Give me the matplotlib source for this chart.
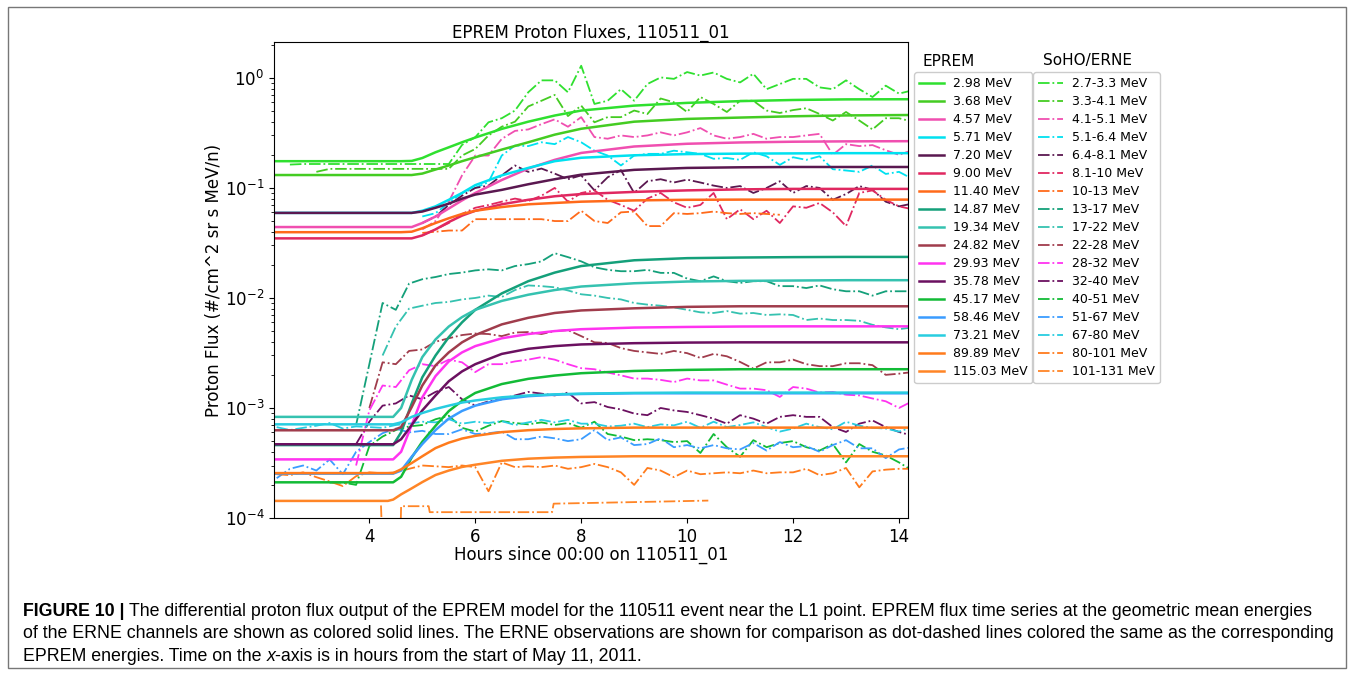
import numpy as np
import matplotlib
matplotlib.use('Agg')
import matplotlib.pyplot as plt
from matplotlib.patches import Rectangle

n = np.nan

# EPREM model output (solid lines), sampled on a common time grid (hours)
t_model = [2.2, 4.35, 4.45, 4.6, 4.8, 5.0, 5.25, 5.5, 5.75, 6.0, 6.5, 7.0, 7.5, 8.0, 9.0, 10.0, 11.0, 12.0, 13.0, 14.2]

eprem_2p98 = [0.175, 0.175, 0.175, 0.175, 0.176, 0.187, 0.211, 0.234, 0.26, 0.287, 0.344, 0.40, 0.455, 0.505, 0.56, 0.593, 0.615, 0.63, 0.638, 0.64]
eprem_3p68 = [0.131, 0.131, 0.131, 0.131, 0.131, 0.135, 0.147, 0.16, 0.175, 0.19, 0.223, 0.26, 0.305, 0.345, 0.40, 0.424, 0.436, 0.448, 0.456, 0.46]
eprem_4p57 = [0.0441, 0.0441, 0.0441, 0.0441, 0.0441, 0.048, 0.055, 0.065, 0.077, 0.09, 0.118, 0.15, 0.18, 0.208, 0.238, 0.252, 0.259, 0.263, 0.265, 0.266]
eprem_5p71 = [0.0593, 0.0593, 0.0593, 0.0593, 0.0593, 0.062, 0.068, 0.078, 0.09, 0.106, 0.13, 0.152, 0.175, 0.188, 0.198, 0.203, 0.205, 0.206, 0.207, 0.207]
eprem_7p20 = [0.0593, 0.0593, 0.0593, 0.0593, 0.0593, 0.061, 0.066, 0.072, 0.08, 0.087, 0.096, 0.108, 0.12, 0.132, 0.146, 0.152, 0.154, 0.155, 0.155, 0.155]
eprem_9p00 = [0.0348, 0.0348, 0.0348, 0.0348, 0.0348, 0.037, 0.042, 0.049, 0.056, 0.062, 0.071, 0.078, 0.084, 0.088, 0.092, 0.095, 0.097, 0.098, 0.098, 0.098]
eprem_11p40 = [0.0396, 0.0396, 0.0396, 0.0396, 0.040, 0.043, 0.048, 0.053, 0.058, 0.062, 0.067, 0.071, 0.073, 0.075, 0.077, 0.078, 0.0783, 0.0783, 0.0783, 0.0783]
# lower energies below, values in units of 1e-3
eprem_14p87 = [0.46, 0.46, 0.46, 0.60, 1.1, 1.9, 3.0, 4.4, 6.0, 7.8, 11.0, 14.2, 17.0, 19.5, 22.0, 23.0, 23.3, 23.5, 23.6, 23.6]
eprem_19p34 = [0.83, 0.83, 0.83, 1.0, 1.8, 2.9, 4.2, 5.5, 6.7, 7.8, 9.4, 10.7, 11.8, 12.7, 13.6, 14.1, 14.3, 14.4, 14.5, 14.5]
eprem_24p82 = [0.627, 0.627, 0.627, 0.67, 1.02, 1.6, 2.44, 3.2, 3.95, 4.6, 5.75, 6.6, 7.3, 7.7, 8.05, 8.3, 8.4, 8.4, 8.4, 8.4]
eprem_29p93 = [0.341, 0.341, 0.341, 0.40, 0.70, 1.25, 1.95, 2.65, 3.2, 3.65, 4.3, 4.7, 5.0, 5.2, 5.38, 5.45, 5.5, 5.52, 5.52, 5.52]
eprem_35p78 = [0.468, 0.468, 0.468, 0.52, 0.70, 0.95, 1.3, 1.75, 2.15, 2.5, 3.1, 3.45, 3.65, 3.78, 3.88, 3.93, 3.95, 3.95, 3.95, 3.95]
eprem_45p17 = [0.211, 0.211, 0.211, 0.237, 0.355, 0.494, 0.689, 0.937, 1.16, 1.37, 1.65, 1.84, 1.97, 2.07, 2.17, 2.22, 2.25, 2.25, 2.25, 2.25]
eprem_58p46 = [0.253, 0.253, 0.253, 0.27, 0.36, 0.47, 0.63, 0.80, 0.94, 1.05, 1.2, 1.28, 1.32, 1.34, 1.36, 1.36, 1.36, 1.36, 1.36, 1.36]
eprem_73p21 = [0.71, 0.71, 0.71, 0.74, 0.83, 0.90, 0.98, 1.05, 1.12, 1.17, 1.25, 1.30, 1.33, 1.35, 1.37, 1.38, 1.38, 1.38, 1.38, 1.38]
eprem_89p89 = [0.256, 0.256, 0.256, 0.277, 0.316, 0.364, 0.432, 0.484, 0.527, 0.558, 0.603, 0.628, 0.644, 0.653, 0.663, 0.663, 0.663, 0.663, 0.663, 0.663]
eprem_115p03 = [0.143, 0.143, 0.147, 0.164, 0.186, 0.212, 0.246, 0.270, 0.291, 0.305, 0.331, 0.346, 0.354, 0.359, 0.364, 0.364, 0.364, 0.364, 0.364, 0.364]

# SoHO/ERNE observations (dot-dashed), every 0.25 h from 2.25 to 14.25
t_obs = np.arange(2.25, 14.26, 0.25)

erne_2p7 = [n, 0.163, 0.165, 0.165, 0.165, 0.165, 0.165, 0.165,
            0.165, 0.165, 0.165, 0.165, 0.165, 0.165, 0.246, 0.289,
            0.395, 0.43, 0.505, 0.74, 0.95, 0.95, 0.74, 1.29,
            0.58, 0.62, 0.79, 0.62, 0.88, 1.01, 0.98, 1.13,
            1.05, 1.12, 0.98, 0.91, 1.09, 0.79, 0.88, 0.98,
            0.98, 0.82, 0.79, 0.95, 0.79, 0.67, 0.85, 0.72,
            0.77]
erne_3p3 = [n, n, n, 0.14, 0.149, 0.149, 0.149, 0.149,
            0.149, 0.149, 0.149, 0.149, 0.149, 0.149, 0.197, 0.226,
            0.30, 0.36, 0.40, 0.55, 0.62, 0.70, 0.45, 0.56,
            0.395, 0.44, 0.44, 0.505, 0.47, 0.65, 0.60, 0.49,
            0.67, 0.58, 0.49, 0.62, 0.62, 0.505, 0.48, 0.51,
            0.53, 0.47, 0.41, 0.49, 0.41, 0.34, 0.43, 0.43,
            0.40]
erne_4p1 = [n, n, n, n, n, n, n, n,
            n, n, n, 0.042, 0.05, 0.075, 0.13, 0.197,
            0.197, 0.279, 0.33, 0.34, 0.38, 0.42, 0.36, 0.44,
            0.29, 0.28, 0.30, 0.29, 0.30, 0.32, 0.30, 0.32,
            0.35, 0.30, 0.28, 0.29, 0.31, 0.28, 0.29, 0.29,
            0.30, 0.31, 0.20, 0.25, 0.24, 0.245, 0.22, 0.20,
            0.22]
erne_5p1 = [n, n, n, n, n, n, n, n,
            n, n, n, 0.055, 0.059, 0.073, 0.09, 0.10,
            0.113, 0.197, 0.243, 0.24, 0.26, 0.25, 0.29, 0.26,
            0.218, 0.197, 0.16, 0.197, 0.204, 0.204, 0.218, 0.211,
            0.204, 0.184, 0.187, 0.18, 0.211, 0.194, 0.162, 0.19,
            0.18, 0.194, 0.148, 0.144, 0.14, 0.16, 0.134, 0.14,
            0.121]
erne_6p4 = [n, n, n, n, n, n, n, n,
            n, n, n, 0.048, 0.055, 0.07, 0.085, 0.10,
            0.105, 0.13, 0.16, 0.14, 0.15, 0.135, 0.12, 0.13,
            0.095, 0.125, 0.145, 0.09, 0.115, 0.12, 0.112, 0.119,
            0.112, 0.105, 0.10, 0.104, 0.09, 0.10, 0.115, 0.09,
            0.104, 0.10, 0.078, 0.088, 0.104, 0.096, 0.075, 0.068,
            0.072]
erne_8p1 = [n, n, n, n, n, n, n, n,
            n, n, n, 0.037, 0.042, 0.048, 0.058, 0.066,
            0.07, 0.075, 0.08, 0.076, 0.085, 0.10, 0.075, 0.09,
            0.095, 0.078, 0.07, 0.062, 0.08, 0.09, 0.074, 0.066,
            0.07, 0.09, 0.052, 0.064, 0.052, 0.062, 0.048, 0.068,
            0.066, 0.073, 0.06, 0.045, 0.09, 0.095, 0.078, 0.068,
            0.064]
erne_10 = [n, n, n, n, n, n, n, n,
           n, n, n, 0.039, 0.040, 0.041, 0.041, 0.052,
           0.052, 0.052, 0.052, 0.052, 0.052, 0.05, 0.05, 0.062,
           0.05, 0.048, 0.06, 0.061, 0.045, 0.045, 0.059, 0.058,
           0.059, 0.061, 0.059, 0.058, 0.059, 0.058, 0.057, n,
           n, n, n, n, n, n, n, n,
           n]
# values in units of 1e-3
erne_13 = [n, n, n, n, n, n, 0.7, 2.5,
           9.0, 7.8, 13.5, 14.8, 15.5, 16.5, 17.0, 17.8,
           18.2, 17.8, 19.5, 20.3, 21.5, 25.5, 23.5, 21.5,
           19.0, 18.0, 17.5, 17.5, 18.0, 16.9, 16.9, 15.0,
           14.2, 15.7, 14.2, 13.7, 14.2, 14.2, 12.8, 12.8,
           12.3, 13.0, 12.0, 11.5, 11.5, 10.5, 11.5, 11.5,
           11.5]
erne_17 = [n, n, n, n, n, n, n, n,
           3.0, 5.5, 8.0, 8.5, 9.0, 9.2, 9.7, 10.0,
           10.5, 10.2, 11.8, 13.0, 12.8, 12.5, 11.7, 10.8,
           10.5, 10.0, 9.7, 9.0, 8.7, 8.5, 8.2, 7.8,
           7.4, 7.3, 7.6, 7.2, 7.3, 7.0, 7.1, 7.0,
           6.3, 6.5, 6.3, 6.3, 6.2, 5.7, 5.4, 5.2,
           5.4]
erne_22 = [n, n, n, n, n, n, n, 1.0,
           2.6, 2.5, 3.3, 3.4, 4.0, 4.3, 4.6, 4.75,
           4.7, 4.5, 4.85, 4.9, 4.7, 5.0, 5.1, 4.5,
           3.95, 3.9, 3.5, 3.3, 3.2, 3.1, 3.3, 3.15,
           2.85, 3.1, 2.95, 2.62, 2.28, 2.6, 2.6, 2.75,
           2.5, 2.4, 2.4, 2.55, 2.55, 2.45, 2.0, 2.05,
           2.12]
erne_28 = [n, n, n, n, n, n, 0.3, 0.95,
           1.6, 1.55, 2.2, 2.5, 2.4, 2.75, 2.6, 2.12,
           2.5, 2.5, 2.65, 2.75, 2.9, 2.75, 2.5, 2.3,
           2.25, 2.1, 1.98, 1.85, 1.85, 1.8, 1.72, 1.85,
           1.78, 1.78, 1.63, 1.5, 1.5, 1.45, 1.26, 1.55,
           1.5, 1.38, 1.4, 1.32, 1.3, 1.22, 1.15, 1.0,
           1.15]
erne_32 = [n, n, n, n, n, n, 0.47, 0.75,
           1.05, 1.1, 1.3, 1.2, 1.4, 1.55, 1.2, 1.05,
           1.15, 1.2, 1.3, 1.4, 1.35, 1.3, 1.38, 1.1,
           1.13, 1.02, 0.97, 0.89, 0.86, 1.0, 0.95, 0.92,
           0.86, 0.80, 0.72, 0.86, 0.80, 0.72, 0.83, 0.86,
           0.83, 0.83, 0.67, 0.605, 0.72, 0.77, 0.67, 0.605,
           0.56]
erne_40 = [n, n, n, n, 0.21, 0.21, 0.20, 0.45,
           0.55, 0.63, 0.68, 0.70, 0.79, 0.85, 0.66, 0.61,
           0.69, 0.76, 0.73, 0.71, 0.74, 0.70, 0.73, 0.66,
           0.75, 0.58, 0.55, 0.51, 0.52, 0.51, 0.49, 0.50,
           0.39, 0.58, 0.44, 0.36, 0.51, 0.44, 0.48, 0.50,
           0.44, 0.41, 0.47, 0.32, 0.47, 0.40, 0.37, 0.32,
           0.27]
erne_51 = [0.23, 0.28, 0.30, 0.27, 0.34, 0.25, 0.40, 0.49,
           0.59, 0.65, 0.60, 0.62, 0.58, 0.58, 0.64, 0.58,
           0.59, 0.61, 0.52, 0.52, 0.55, 0.53, 0.50, 0.52,
           0.63, 0.51, 0.54, 0.46, 0.47, 0.53, 0.44, 0.46,
           0.43, 0.46, 0.43, 0.42, 0.48, 0.41, 0.49, 0.44,
           0.45, 0.40, 0.46, 0.51, 0.43, 0.43, 0.35, 0.42,
           0.44]
erne_67 = [0.67, 0.63, 0.66, 0.69, 0.73, 0.65, 0.68, 0.67,
           0.66, 0.70, 0.72, 0.75, 0.74, 0.79, 0.72, 0.75,
           0.73, 0.76, 0.70, 0.74, 0.78, 0.74, 0.78, 0.72,
           0.72, 0.68, 0.69, 0.72, 0.67, 0.71, 0.695, 0.75,
           0.66, 0.75, 0.67, 0.70, 0.74, 0.67, 0.61, 0.65,
           0.72, 0.67, 0.64, 0.75, 0.69, 0.66, 0.65, 0.61,
           0.67]
erne_80 = [0.25, 0.245, 0.26, 0.235, 0.215, 0.195, 0.24, 0.26,
           0.255, 0.26, 0.28, 0.30, 0.295, 0.29, 0.30, 0.29,
           0.175, 0.32, 0.29, 0.295, 0.29, 0.30, 0.28, 0.29,
           0.31, 0.29, 0.26, 0.20, 0.285, 0.27, 0.235, 0.27,
           0.25, 0.255, 0.26, 0.255, 0.27, 0.255, 0.26, 0.26,
           0.28, 0.245, 0.255, 0.285, 0.19, 0.265, 0.275, 0.28,
           0.28]
# highest channel is sparse, own time stamps
t_101 = [4.22, 4.25, 4.58, 4.60, 5.12, 5.14, 7.45, 7.48, 8.5, 9.5, 10.4]
erne_101 = [0.130, 0.05, 0.05, 0.128, 0.128, 0.113, 0.113, 0.135, 0.138, 0.141, 0.144]

eprem_labels = ['2.98 MeV', '3.68 MeV', '4.57 MeV', '5.71 MeV', '7.20 MeV', '9.00 MeV',
                '11.40 MeV', '14.87 MeV', '19.34 MeV', '24.82 MeV', '29.93 MeV', '35.78 MeV',
                '45.17 MeV', '58.46 MeV', '73.21 MeV', '89.89 MeV', '115.03 MeV']
erne_labels = ['2.7-3.3 MeV', '3.3-4.1 MeV', '4.1-5.1 MeV', '5.1-6.4 MeV', '6.4-8.1 MeV', '8.1-10 MeV',
               '10-13 MeV', '13-17 MeV', '17-22 MeV', '22-28 MeV', '28-32 MeV', '32-40 MeV',
               '40-51 MeV', '51-67 MeV', '67-80 MeV', '80-101 MeV', '101-131 MeV']
colors = ['#2fe02f', '#44cc22', '#f04fb0', '#00e1f0', '#5a1850', '#e02860', '#ff6a1a',
          '#14a07a', '#35c2b0', '#a03c4c', '#ff33f0', '#6b1060', '#12bb36', '#3a9cff',
          '#28cde0', '#ff7b1c', '#ff8526']

milli = 1e-3
eprem = [eprem_2p98, eprem_3p68, eprem_4p57, eprem_5p71, eprem_7p20, eprem_9p00, eprem_11p40] + \
        [np.array(v) * milli for v in [eprem_14p87, eprem_19p34, eprem_24p82, eprem_29p93, eprem_35p78,
                                       eprem_45p17, eprem_58p46, eprem_73p21, eprem_89p89, eprem_115p03]]
erne = [erne_2p7, erne_3p3, erne_4p1, erne_5p1, erne_6p4, erne_8p1, erne_10] + \
       [np.array(v) * milli for v in [erne_13, erne_17, erne_22, erne_28, erne_32, erne_40,
                                      erne_51, erne_67, erne_80, erne_101]]
erne_t = [t_obs] * 16 + [t_101]

W, H = 1354, 676
fig = plt.figure(figsize=(W / 100, H / 100), dpi=100)
ax = fig.add_axes([274 / W, 1 - 518 / H, (908 - 274) / W, (518 - 42) / H])

h_ep, h_er = [], []
for i in range(17):
    l2, = ax.plot(erne_t[i], erne[i], color=colors[i], lw=1.3, ls='-.')
    h_er.append(l2)
for i in range(17):
    l1, = ax.plot(t_model, eprem[i], color=colors[i], lw=1.8)
    h_ep.append(l1)

ax.set_yscale('log')
ax.set_ylim(1e-4, 2.12)
ax.set_xlim(2.2, 14.17)
ax.set_xticks([4, 6, 8, 10, 12, 14])
ax.tick_params(labelsize=12)
ax.set_xlabel('Hours since 00:00 on 110511_01', fontsize=12, labelpad=0)
ax.set_ylabel('Proton Flux (#/cm^2 sr s MeV/n)', fontsize=12, labelpad=1)
ax.set_title('EPREM Proton Fluxes, 110511_01', fontsize=12, pad=3)

leg_kw = dict(loc='upper left', fontsize=9, handlelength=2.0, handletextpad=0.7,
              labelspacing=0.40, borderaxespad=0, framealpha=1, bbox_transform=fig.transFigure)
fig.legend(h_ep, eprem_labels, bbox_to_anchor=(914 / W, 1 - 72 / H), **leg_kw)
fig.legend(h_er, erne_labels, bbox_to_anchor=(1033 / W, 1 - 72 / H), **leg_kw)
fig.text(949 / W, 1 - 61 / H, 'EPREM', ha='center', va='center', fontsize=11)
fig.text(1088 / W, 1 - 61 / H, 'SoHO/ERNE', ha='center', va='center', fontsize=11)

# outer frame of the figure panel
fig.patches.append(Rectangle((8 / W, 1 - 668 / H), 1338 / W, 661 / H, transform=fig.transFigure,
                             fill=False, edgecolor='#777777', lw=1.0))

# caption, fitted to the frame width
cap_font = 'Liberation Sans'
line2 = ('of the ERNE channels are shown as colored solid lines. The ERNE observations are shown '
         'for comparison as dot-dashed lines colored the same as the corresponding')
renderer = fig.canvas.get_renderer()
probe = fig.text(0, 0, line2, fontsize=12, family=cap_font)
size = 12 * 1317 / probe.get_window_extent(renderer).width
probe.remove()
space = 0.28 * size * 100 / 72


def runs(x_px, y_px, parts):
    # parts: (text, style kwargs, add a word gap after it)
    x = x_px / W
    for txt, kw, gap in parts:
        t = fig.text(x, 1 - y_px / H, txt, fontsize=size, family=cap_font, va='baseline', **kw)
        x += (t.get_window_extent(renderer).width + (space if gap else 0)) / W


runs(23, 616, [('FIGURE 10 |', dict(weight='bold'), True),
               ('The differential proton flux output of the EPREM model for the 110511 event near the L1 '
                'point. EPREM flux time series at the geometric mean energies', {}, False)])
runs(23, 638.5, [(line2, {}, False)])
runs(23, 661, [('EPREM energies. Time on the', {}, True), ('x', dict(style='italic'), False),
               ('-axis is in hours from the start of May 11, 2011.', {}, False)])

fig.savefig('out.png', dpi=100)
